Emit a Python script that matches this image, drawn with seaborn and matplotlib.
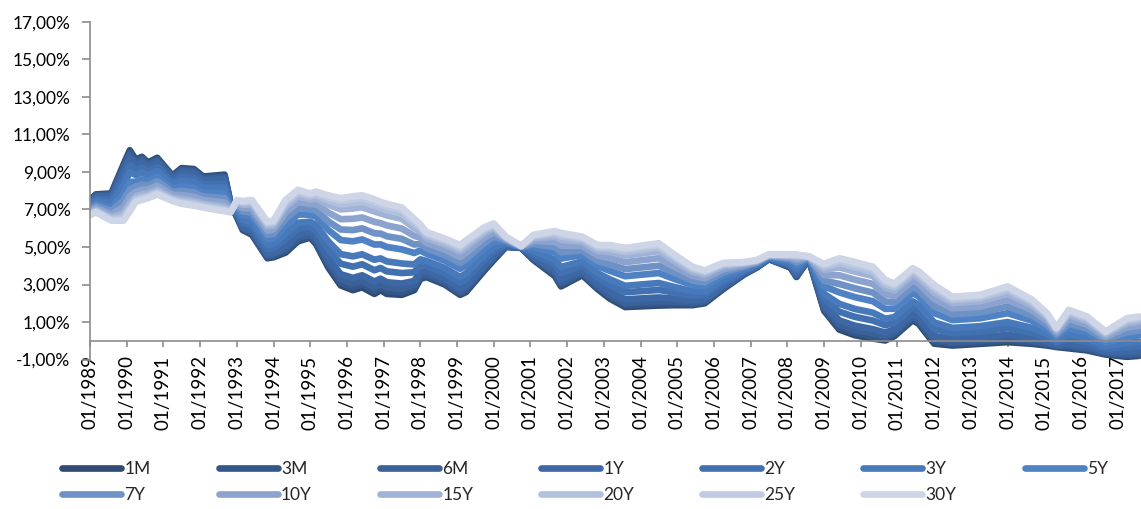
import matplotlib
matplotlib.use("Agg")
import matplotlib.pyplot as plt
import matplotlib.dates as mdates
from matplotlib.lines import Line2D
from matplotlib.ticker import FuncFormatter
import pandas as pd
import seaborn as sns

# month of each reading (in %)
dates = [
    "1989-01", "1989-03", "1989-08", "1989-12", "1990-02", "1990-04", "1990-06", "1990-08", "1990-11", "1991-04",
    "1991-07", "1991-11", "1992-02", "1992-09", "1992-11", "1993-01", "1993-03", "1993-06", "1993-11", "1994-01",
    "1994-05", "1994-09", "1995-01", "1995-03", "1995-07", "1995-11", "1996-03", "1996-06", "1996-10", "1996-12",
    "1997-02", "1997-07", "1997-11", "1998-01", "1998-03", "1998-09", "1999-02", "1999-04", "1999-10", "2000-01",
    "2000-05", "2000-10", "2001-02", "2001-09", "2001-11", "2002-06", "2002-11", "2003-03", "2003-08", "2004-07",
    "2004-12", "2005-06", "2005-10", "2006-04", "2006-11", "2007-03", "2007-07", "2008-02", "2008-04", "2008-08",
    "2009-01", "2009-06", "2009-11", "2010-05", "2010-09", "2010-12", "2011-06", "2011-08", "2012-01", "2012-07",
    "2013-04", "2014-01", "2014-09", "2015-02", "2015-05", "2015-09", "2016-03", "2016-09", "2017-04", "2017-08",
]

tenors = ["1M", "3M", "6M", "1Y", "2Y", "3Y", "5Y", "7Y", "10Y", "15Y", "20Y", "25Y", "30Y"]

m1 = [7.5, 7.8, 7.85, 9.4, 10.15, 9.65, 9.8, 9.5, 9.75, 8.8,
      9.2, 9.15, 8.75, 8.85, 7.3, 6.6, 5.9, 5.65, 4.4, 4.45,
      4.7, 5.3, 5.5, 5.15, 3.9, 2.95, 2.7, 2.85, 2.5, 2.7,
      2.5, 2.45, 2.7, 3.3, 3.4, 3.0, 2.45, 2.6, 3.75, 4.3,
      5.0, 4.95, 4.3, 3.45, 2.9, 3.5, 2.75, 2.25, 1.8, 1.88,
      1.9, 1.9, 2.0, 2.75, 3.55, 3.9, 4.35, 3.9, 3.4, 4.35,
      1.6, 0.6, 0.3, 0.12, 0.02, 0.25, 1.1, 0.9, -0.15, -0.25,
      -0.16, -0.07, -0.16, -0.25, -0.33, -0.4, -0.51, -0.73, -0.85, -0.8]
m3 = [7.48, 7.77, 7.81, 9.31, 10.05, 9.58, 9.73, 9.44, 9.69, 8.76,
      9.14, 9.09, 8.70, 8.79, 7.29, 6.63, 5.95, 5.71, 4.46, 4.51,
      4.78, 5.38, 5.57, 5.23, 4.02, 3.09, 2.85, 3.00, 2.65, 2.84,
      2.64, 2.59, 2.81, 3.39, 3.47, 3.07, 2.53, 2.68, 3.82, 4.36,
      5.02, 4.95, 4.34, 3.52, 2.99, 3.56, 2.82, 2.34, 1.89, 1.98,
      1.98, 1.96, 2.05, 2.79, 3.57, 3.91, 4.36, 3.92, 3.44, 4.35,
      1.68, 0.71, 0.42, 0.23, 0.12, 0.33, 1.18, 0.98, -0.06, -0.17,
      -0.08, 0.02, -0.09, -0.20, -0.30, -0.34, -0.46, -0.69, -0.79, -0.74]
m6 = [7.44, 7.73, 7.75, 9.19, 9.92, 9.49, 9.64, 9.37, 9.61, 8.71,
      9.07, 9.01, 8.63, 8.71, 7.27, 6.66, 6.01, 5.78, 4.54, 4.59,
      4.90, 5.49, 5.66, 5.35, 4.17, 3.28, 3.05, 3.19, 2.85, 3.03,
      2.84, 2.78, 2.97, 3.50, 3.57, 3.17, 2.64, 2.79, 3.91, 4.44,
      5.04, 4.96, 4.39, 3.62, 3.10, 3.64, 2.91, 2.45, 2.02, 2.11,
      2.09, 2.04, 2.12, 2.85, 3.60, 3.93, 4.37, 3.95, 3.48, 4.36,
      1.78, 0.87, 0.57, 0.39, 0.25, 0.45, 1.29, 1.10, 0.07, -0.07,
      0.02, 0.14, 0.01, -0.13, -0.26, -0.26, -0.38, -0.64, -0.71, -0.65]
y1 = [7.40, 7.68, 7.66, 9.01, 9.73, 9.36, 9.50, 9.25, 9.50, 8.62,
      8.95, 8.90, 8.54, 8.60, 7.24, 6.72, 6.10, 5.89, 4.65, 4.70,
      5.06, 5.66, 5.81, 5.51, 4.40, 3.55, 3.35, 3.49, 3.16, 3.31,
      3.12, 3.05, 3.19, 3.68, 3.71, 3.32, 2.79, 2.96, 4.05, 4.55,
      5.07, 4.96, 4.48, 3.76, 3.27, 3.77, 3.06, 2.62, 2.21, 2.31,
      2.25, 2.17, 2.23, 2.93, 3.63, 3.95, 4.38, 3.99, 3.56, 4.37,
      1.93, 1.09, 0.81, 0.62, 0.44, 0.61, 1.46, 1.26, 0.26, 0.09,
      0.18, 0.32, 0.15, -0.03, -0.20, -0.13, -0.27, -0.57, -0.58, -0.53]
y2 = [7.30, 7.56, 7.49, 8.65, 9.34, 9.09, 9.23, 9.03, 9.26, 8.46,
      8.73, 8.66, 8.34, 8.36, 7.19, 6.83, 6.29, 6.11, 4.89, 4.94,
      5.40, 5.99, 6.09, 5.85, 4.86, 4.11, 3.95, 4.08, 3.76, 3.88,
      3.70, 3.61, 3.65, 4.03, 4.00, 3.61, 3.11, 3.29, 4.33, 4.79,
      5.14, 4.98, 4.64, 4.05, 3.61, 4.01, 3.34, 2.96, 2.59, 2.71,
      2.58, 2.41, 2.44, 3.10, 3.71, 4.00, 4.41, 4.08, 3.70, 4.39,
      2.23, 1.55, 1.28, 1.08, 0.83, 0.95, 1.79, 1.60, 0.63, 0.40,
      0.49, 0.67, 0.43, 0.18, -0.07, 0.11, -0.06, -0.42, -0.34, -0.28]
y3 = [7.21, 7.46, 7.33, 8.32, 8.98, 8.84, 8.97, 8.82, 9.05, 8.31,
      8.52, 8.45, 8.16, 8.15, 7.14, 6.92, 6.46, 6.32, 5.10, 5.15,
      5.71, 6.29, 6.35, 6.16, 5.29, 4.62, 4.50, 4.61, 4.32, 4.39,
      4.23, 4.12, 4.07, 4.34, 4.26, 3.88, 3.40, 3.59, 4.58, 5.00,
      5.20, 4.99, 4.79, 4.31, 3.93, 4.24, 3.60, 3.28, 2.93, 3.08,
      2.87, 2.64, 2.63, 3.25, 3.78, 4.04, 4.44, 4.15, 3.83, 4.40,
      2.50, 1.97, 1.70, 1.50, 1.18, 1.26, 2.10, 1.91, 0.98, 0.69,
      0.78, 1.00, 0.69, 0.36, 0.04, 0.34, 0.14, -0.29, -0.11, -0.04]
y5 = [7.08, 7.31, 7.10, 7.84, 8.46, 8.48, 8.60, 8.51, 8.74, 8.10,
      8.21, 8.14, 7.89, 7.84, 7.07, 7.07, 6.71, 6.61, 5.41, 5.46,
      6.16, 6.73, 6.72, 6.61, 5.90, 5.37, 5.30, 5.40, 5.13, 5.14,
      5.00, 4.87, 4.68, 4.81, 4.65, 4.27, 3.83, 4.03, 4.95, 5.31,
      5.29, 5.00, 5.00, 4.70, 4.38, 4.57, 3.97, 3.73, 3.44, 3.61,
      3.30, 2.97, 2.91, 3.48, 3.89, 4.11, 4.48, 4.26, 4.02, 4.43,
      2.90, 2.58, 2.33, 2.11, 1.70, 1.71, 2.54, 2.36, 1.48, 1.10,
      1.20, 1.47, 1.07, 0.63, 0.21, 0.67, 0.43, -0.09, 0.22, 0.29]
y7 = [6.99, 7.19, 6.92, 7.48, 8.07, 8.21, 8.33, 8.28, 8.50, 7.94,
      7.98, 7.90, 7.69, 7.60, 7.01, 7.18, 6.89, 6.83, 5.65, 5.70,
      6.49, 7.06, 7.00, 6.94, 6.36, 5.93, 5.90, 5.99, 5.73, 5.71,
      5.57, 5.43, 5.13, 5.16, 4.94, 4.57, 4.15, 4.36, 5.22, 5.55,
      5.35, 5.01, 5.16, 4.99, 4.72, 4.81, 4.25, 4.07, 3.82, 4.00,
      3.63, 3.21, 3.12, 3.65, 3.97, 4.16, 4.51, 4.35, 4.17, 4.45,
      3.20, 3.03, 2.80, 2.57, 2.09, 2.04, 2.87, 2.69, 1.85, 1.41,
      1.51, 1.83, 1.35, 0.84, 0.33, 0.91, 0.65, 0.06, 0.46, 0.54]
y10 = [6.89, 7.08, 6.75, 7.12, 7.68, 7.94, 8.05, 8.06, 8.27, 7.77,
       7.76, 7.67, 7.50, 7.37, 6.96, 7.28, 7.08, 7.06, 5.88, 5.93,
       6.83, 7.39, 7.29, 7.28, 6.83, 6.48, 6.50, 6.57, 6.34, 6.27,
       6.15, 5.98, 5.59, 5.50, 5.22, 4.86, 4.46, 4.69, 5.50, 5.78,
       5.42, 5.03, 5.33, 5.27, 5.07, 5.06, 4.54, 4.42, 4.19, 4.40,
       3.95, 3.46, 3.33, 3.81, 4.04, 4.20, 4.54, 4.43, 4.31, 4.46,
       3.50, 3.49, 3.26, 3.03, 2.47, 2.38, 3.21, 3.03, 2.23, 1.73,
       1.82, 2.19, 1.63, 1.04, 0.45, 1.16, 0.87, 0.20, 0.71, 0.80]
y15 = [6.80, 6.97, 6.59, 6.79, 7.32, 7.69, 7.80, 7.85, 8.05, 7.63,
       7.55, 7.45, 7.31, 7.15, 6.91, 7.38, 7.25, 7.26, 6.10, 6.15,
       7.14, 7.69, 7.54, 7.59, 7.25, 7.00, 7.05, 7.11, 6.89, 6.79,
       6.68, 6.50, 6.01, 5.82, 5.49, 5.13, 4.76, 4.99, 5.75, 6.00,
       5.48, 5.04, 5.47, 5.54, 5.38, 5.28, 4.79, 4.73, 4.54, 4.77,
       4.25, 3.68, 3.52, 3.97, 4.12, 4.25, 4.57, 4.51, 4.44, 4.48,
       3.78, 3.91, 3.69, 3.45, 2.83, 2.69, 3.51, 3.34, 2.57, 2.01,
       2.11, 2.51, 1.89, 1.23, 0.57, 1.38, 1.06, 0.34, 0.93, 1.03]
y20 = [6.76, 6.92, 6.50, 6.61, 7.13, 7.56, 7.66, 7.73, 7.94, 7.54,
       7.43, 7.34, 7.22, 7.04, 6.88, 7.44, 7.34, 7.37, 6.21, 6.26,
       7.30, 7.86, 7.69, 7.75, 7.48, 7.27, 7.35, 7.41, 7.20, 7.07,
       6.96, 6.77, 6.23, 6.00, 5.63, 5.28, 4.91, 5.16, 5.89, 6.11,
       5.51, 5.04, 5.56, 5.68, 5.55, 5.41, 4.94, 4.90, 4.73, 4.97,
       4.41, 3.81, 3.63, 4.05, 4.15, 4.27, 4.58, 4.55, 4.52, 4.49,
       3.93, 4.13, 3.93, 3.68, 3.02, 2.85, 3.68, 3.50, 2.76, 2.17,
       2.27, 2.69, 2.03, 1.33, 0.63, 1.51, 1.17, 0.41, 1.06, 1.15]
y25 = [6.72, 6.88, 6.44, 6.49, 7.00, 7.47, 7.57, 7.66, 7.86, 7.49,
       7.36, 7.26, 7.15, 6.96, 6.86, 7.47, 7.40, 7.44, 6.29, 6.34,
       7.42, 7.97, 7.78, 7.87, 7.63, 7.46, 7.55, 7.60, 7.40, 7.26,
       7.16, 6.96, 6.39, 6.11, 5.73, 5.38, 5.02, 5.27, 5.98, 6.19,
       5.53, 5.05, 5.61, 5.78, 5.66, 5.49, 5.03, 5.01, 4.86, 5.10,
       4.52, 3.89, 3.70, 4.11, 4.18, 4.29, 4.59, 4.58, 4.56, 4.50,
       4.03, 4.29, 4.08, 3.84, 3.15, 2.97, 3.79, 3.62, 2.89, 2.27,
       2.37, 2.81, 2.13, 1.40, 0.67, 1.59, 1.25, 0.46, 1.14, 1.24]
y30 = [6.7, 6.85, 6.4, 6.4, 6.9, 7.4, 7.5, 7.6, 7.8, 7.45,
       7.3, 7.2, 7.1, 6.9, 6.85, 7.5, 7.45, 7.5, 6.35, 6.4,
       7.5, 8.05, 7.85, 7.95, 7.75, 7.6, 7.7, 7.75, 7.55, 7.4,
       7.3, 7.1, 6.5, 6.2, 5.8, 5.45, 5.1, 5.35, 6.05, 6.25,
       5.55, 5.05, 5.65, 5.85, 5.75, 5.55, 5.1, 5.1, 4.95, 5.2,
       4.6, 3.95, 3.75, 4.15, 4.2, 4.3, 4.6, 4.6, 4.6, 4.5,
       4.1, 4.4, 4.2, 3.95, 3.25, 3.05, 3.87, 3.7, 2.98, 2.35,
       2.45, 2.9, 2.2, 1.45, 0.7, 1.65, 1.3, 0.5, 1.2, 1.3]

colors = ["#2F4B72", "#34578A", "#3A6198", "#3D68A5", "#4271B2", "#4779BB", "#4E82C4",
          "#6F92C6", "#8BA3CE", "#A0B3D7", "#B0C0DD", "#BFCBE3", "#CDD5E6"]

series = [m1, m3, m6, y1, y2, y3, y5, y7, y10, y15, y20, y25, y30]
when = pd.to_datetime(dates, format="%Y-%m")
long = pd.concat(
    [pd.DataFrame({"date": when, "rate": vals, "tenor": name}) for name, vals in zip(tenors, series)],
    ignore_index=True,
)

sns.set_theme(style="white")
plt.rcParams["font.family"] = ["Lato", "DejaVu Sans"]

W, H = 1141, 509
fig = plt.figure(figsize=(W / 100, H / 100), dpi=100)
ax = fig.add_axes([90 / W, 1 - 359.6 / H, 1 - 90 / W, (359.6 - 21.7) / H])

lw = 4.8
sns.lineplot(data=long, x="date", y="rate", hue="tenor", hue_order=tenors, palette=colors,
             linewidth=lw, estimator=None, sort=False, legend=False, ax=ax,
             solid_capstyle="round", solid_joinstyle="round")

ax.set_ylim(-1, 17)
ax.set_yticks(range(-1, 18, 2))
ax.yaxis.set_major_formatter(FuncFormatter(lambda v, _: f"{v:.2f}%".replace(".", ",")))
ax.set_xlim(pd.Timestamp("1989-01-01"), pd.Timestamp("2017-08-20"))
ax.xaxis.set_major_locator(mdates.YearLocator())
ax.xaxis.set_major_formatter(mdates.DateFormatter("%m/%Y"))
ax.set_xlabel("")
ax.set_ylabel("")

grey = "#8C8C8C"
sns.despine(ax=ax)
ax.spines["bottom"].set_position(("data", 0))
for side in ["left", "bottom"]:
    ax.spines[side].set_color(grey)
    ax.spines[side].set_linewidth(1.2)
ax.tick_params(axis="x", bottom=True, rotation=90, length=4.5, width=1.2, color=grey,
               pad=6, labelsize=13.5, labelcolor="black")
ax.tick_params(axis="y", left=True, length=6, width=1.2, color=grey,
               pad=8, labelsize=12.5, labelcolor="black")

# row-major legend: matplotlib fills columns first, so interleave the two rows
order = [0, 7, 1, 8, 2, 9, 3, 10, 4, 11, 5, 12, 6]
handles = [Line2D([], [], color=colors[i], lw=lw, solid_capstyle="round") for i in order]
labels = [tenors[i] for i in order]
fig.legend(handles, labels, ncol=7, loc="center", mode="expand",
           bbox_to_anchor=(62 / W, 1 - 482 / H, (1108 - 62) / W, 0), bbox_transform=fig.transFigure,
           frameon=False, handlelength=3.4, handletextpad=0.2, fontsize=12.5,
           labelspacing=0.6, borderaxespad=0, borderpad=0)

fig.savefig("out.png", dpi=100)
